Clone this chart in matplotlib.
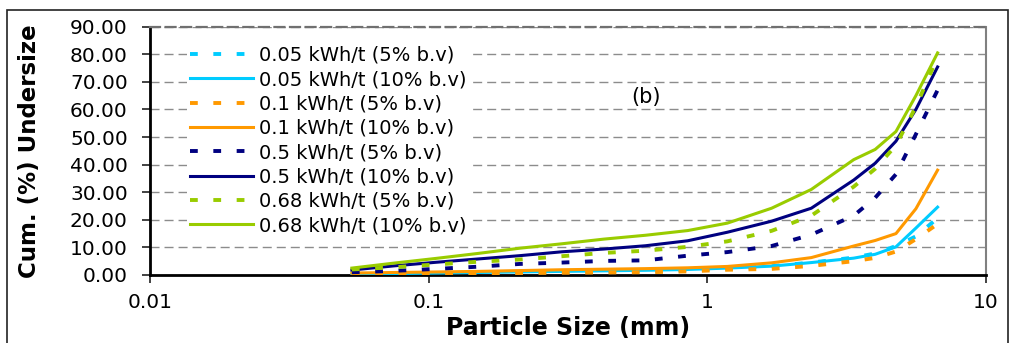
import numpy as np
import matplotlib.pyplot as plt
from matplotlib.patches import Rectangle
from matplotlib.ticker import FixedLocator, NullLocator, FuncFormatter

plt.rcParams["font.family"] = ["DejaVu Sans"]

# sieve sizes (mm)
size = np.array([0.053, 0.075, 0.106, 0.15, 0.212, 0.3, 0.425, 0.6, 0.85,
                 1.18, 1.7, 2.36, 3.35, 4.0, 4.75, 5.6, 6.7])

# cumulative undersize (%) per energy input / bed volume
e005_bv5 = [0.2, 0.3, 0.5, 0.7, 0.9, 1.1, 1.3, 1.5, 1.8, 2.3, 3.2, 4.5, 6.3, 7.8, 10.5, 14.0, 20.6]
e005_bv10 = [0.3, 0.5, 0.7, 0.9, 1.1, 1.3, 1.5, 1.7, 2.0, 2.5, 3.2, 4.5, 6.1, 7.5, 10.2, 17.0, 24.6]
e01_bv5 = [0.3, 0.4, 0.5, 0.6, 0.7, 0.8, 0.9, 1.0, 1.3, 1.9, 2.2, 3.3, 5.0, 6.2, 8.5, 13.0, 18.5]
e01_bv10 = [0.7, 0.9, 1.1, 1.3, 1.6, 1.9, 2.1, 2.3, 2.6, 3.1, 4.4, 6.3, 10.5, 12.5, 15.0, 24.0, 38.0]
e05_bv5 = [1.0, 1.5, 2.2, 3.0, 4.0, 4.5, 5.1, 5.3, 7.0, 8.3, 10.5, 14.6, 21.5, 28.0, 36.5, 51.0, 67.0]
e05_bv10 = [1.8, 3.3, 4.6, 5.8, 7.0, 8.4, 9.4, 10.6, 12.4, 15.5, 19.5, 24.2, 34.4, 40.5, 48.5, 60.0, 75.4]
e068_bv5 = [2.0, 2.8, 3.8, 4.8, 5.6, 6.8, 8.0, 8.8, 10.2, 12.2, 16.0, 21.5, 32.0, 38.5, 47.0, 61.0, 79.0]
e068_bv10 = [2.5, 4.3, 6.0, 7.8, 9.7, 11.3, 13.0, 14.4, 16.1, 18.8, 24.2, 31.0, 41.8, 45.5, 52.0, 65.0, 80.5]

labels = ["0.05 kWh/t (5% b.v)", "0.05 kWh/t (10% b.v)",
          "0.1 kWh/t (5% b.v)", "0.1 kWh/t (10% b.v)",
          "0.5 kWh/t (5% b.v)", "0.5 kWh/t (10% b.v)",
          "0.68 kWh/t (5% b.v)", "0.68 kWh/t (10% b.v)"]
series = [e005_bv5, e005_bv10, e01_bv5, e01_bv10, e05_bv5, e05_bv10, e068_bv5, e068_bv10]

colors = ["#00CCFF", "#00CCFF", "#FF9900", "#FF9900",
          "#000080", "#000080", "#99CC00", "#99CC00"]

yticks = np.arange(0, 100, 10)
xticks = [0.01, 0.1, 1, 10]


def main():
    fig = plt.figure(figsize=(10.13, 3.43), dpi=100)
    ax = fig.add_axes([0.1481, 0.1983, 0.8253, 0.7239])

    for i, (y, lab) in enumerate(zip(series, labels)):
        if i % 2 == 0:  # 5% b.v -> dashed
            ax.plot(size, y, color=colors[i], lw=2.8, ls=(0, (2.0, 4.0)),
                    dash_capstyle="butt", label=lab, zorder=3)
        else:
            ax.plot(size, y, color=colors[i], lw=2.2, label=lab, zorder=3)

    ax.set_xscale("log")
    ax.set_xlim(0.01, 10)
    ax.set_ylim(0, 90)
    ax.xaxis.set_major_locator(FixedLocator(xticks))
    ax.xaxis.set_minor_locator(NullLocator())
    ax.xaxis.set_major_formatter(FuncFormatter(lambda v, p: f"{v:g}"))
    ax.yaxis.set_major_locator(FixedLocator(yticks))
    ax.yaxis.set_major_formatter(FuncFormatter(lambda v, p: f"{v:.2f}"))

    ax.grid(axis="y", color="#8c8c8c", lw=1.0, ls=(0, (6.5, 3.6)), zorder=1)
    ax.tick_params(axis="both", labelsize=14.5, direction="out", length=6,
                   width=1.3, colors="#333333", labelcolor="black")
    ax.tick_params(axis="x", pad=7)
    ax.tick_params(axis="y", pad=10)

    for s in ("left", "bottom"):
        ax.spines[s].set_linewidth(2.0)
        ax.spines[s].set_color("black")
    ax.spines["right"].set_color("#808080")
    ax.spines["right"].set_linewidth(1.5)
    ax.spines["top"].set_color("#707070")
    ax.spines["top"].set_linewidth(1.6)
    ax.spines["top"].set_linestyle((0, (4.5, 2.5)))

    ax.set_xlabel("Particle Size (mm)", fontsize=17, fontweight="bold")
    ax.set_ylabel("Cum. (%) Undersize", fontsize=16.5, fontweight="bold")
    ax.xaxis.set_label_coords(0.5, -0.165)
    ax.yaxis.set_label_coords(-0.13, 0.5)

    ax.text(0.60, 64.5, "(b)", fontsize=15, ha="center", va="center")

    leg = ax.legend(loc="upper left", bbox_to_anchor=(0.044, 0.935), fontsize=14,
                    frameon=True, facecolor="white", edgecolor="none", framealpha=1,
                    fancybox=False, borderpad=0.15, borderaxespad=0,
                    handlelength=3.25, handletextpad=0.3, labelspacing=0.275)
    leg.set_zorder(5)

    # outer chart border
    fig.patches.append(Rectangle((7 / 1013, -0.05), 1001 / 1013, 1.0208 - 10 / 343 + 0.0292,
                                 transform=fig.transFigure, fill=False,
                                 edgecolor="#222222", lw=1.2))

    fig.savefig("out.png", dpi=100)


main()
